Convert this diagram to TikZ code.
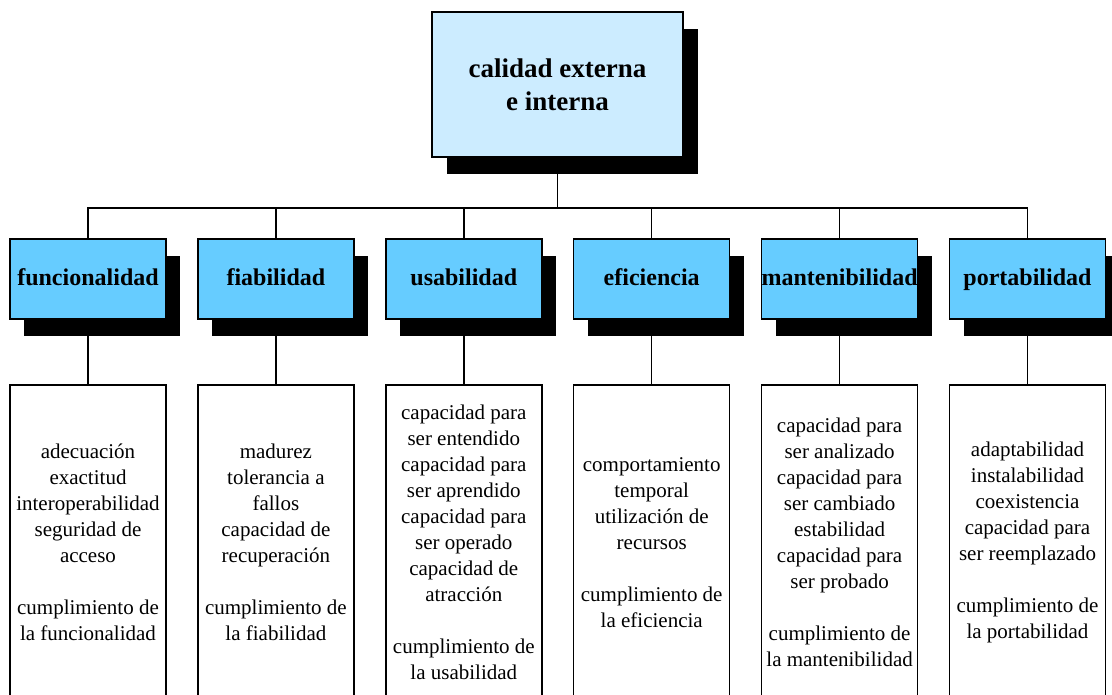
\documentclass[tikz,border=0pt]{standalone}
\usepackage{fontspec}
\setmainfont{Liberation Serif}
\usetikzlibrary{shadows,backgrounds}
\definecolor{topblue}{RGB}{204,236,255}
\definecolor{catblue}{RGB}{102,204,255}
\begin{document}
\begin{tikzpicture}[x=1pt,y=-1pt,
  topbox/.style={draw=black, line width=1.5pt, fill=topblue, minimum width=251pt,
    minimum height=145pt, align=center, inner sep=0pt,
    font=\fontsize{27}{33}\selectfont\bfseries,
    drop shadow={shadow xshift=15pt, shadow yshift=-17pt, fill=black, opacity=1}},
  catbox/.style={draw=black, line width=1.5pt, fill=catblue, minimum width=156pt,
    minimum height=80pt, align=center, inner sep=0pt,
    text height=17pt, text depth=5pt,
    font=\fontsize{24}{28}\selectfont\bfseries,
    drop shadow={shadow xshift=14pt, shadow yshift=-17pt, fill=black, opacity=1}},
  subbox/.style={draw=black, line width=1.5pt, fill=white, minimum width=156pt,
    minimum height=315pt, align=center, inner sep=0pt,
    font=\fontsize{21}{26}\selectfont},
  link/.style={draw=black, line width=1.5pt}]
\useasboundingbox (0,0) rectangle (1112,694);

\node[topbox] (root) at (557.5,84.5) {calidad externa\\e interna};

\node[catbox] (c1) at (88,279) {funcionalidad};
\node[catbox] (c2) at (275.9,279) {fiabilidad};
\node[catbox] (c3) at (463.8,279) {usabilidad};
\node[catbox] (c4) at (651.7,279) {eficiencia};
\node[catbox] (c5) at (839.6,279) {mantenibilidad};
\node[catbox] (c6) at (1027.5,279) {portabilidad};

\node[subbox] (s1) at (88,542.5) {adecuación\\exactitud\\interoperabilidad\\seguridad de\\acceso\\[26pt]cumplimiento de\\la funcionalidad};
\node[subbox] (s2) at (275.9,542.5) {madurez\\tolerancia a\\fallos\\capacidad de\\recuperación\\[26pt]cumplimiento de\\la fiabilidad};
\node[subbox] (s3) at (463.8,542.5) {capacidad para\\ser entendido\\capacidad para\\ser aprendido\\capacidad para\\ser operado\\capacidad de\\atracción\\[26pt]cumplimiento de\\la usabilidad};
\node[subbox] (s4) at (651.7,542.5) {comportamiento\\temporal\\utilización de\\recursos\\[26pt]cumplimiento de\\la eficiencia};
\node[subbox] (s5) at (839.6,542.5) {capacidad para\\ser analizado\\capacidad para\\ser cambiado\\estabilidad\\capacidad para\\ser probado\\[26pt]cumplimiento de\\la mantenibilidad};
\node[subbox] (s6) at (1027.5,542.5) {adaptabilidad\\instalabilidad\\coexistencia\\capacidad para\\ser reemplazado\\[26pt]cumplimiento de\\la portabilidad};

\coordinate (bus) at (557.5,208);

\begin{scope}[on background layer]
  \fill[white] (0,0) rectangle (1112,694);
  \draw[link] (root.south) -- (bus);
  \foreach \i in {1,...,6} {
    \draw[link] (c\i.north) |- (bus);
    \draw[link] (c\i.south) -- (s\i.north);
  }
\end{scope}
\end{tikzpicture}
\end{document}
